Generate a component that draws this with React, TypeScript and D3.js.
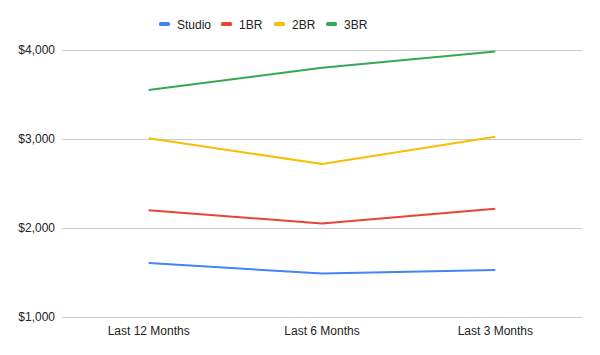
import { axisBottom, axisLeft, line, scaleBand, scaleLinear, select } from "d3";
import { useEffect, useRef } from "react";

const categories = ["Last 12 Months", "Last 6 Months", "Last 3 Months"];
const seriesNames = ["Studio", "1BR", "2BR", "3BR"];
const seriesColors = ["#4285F4", "#EA4335", "#FBBC04", "#34A853"];
const studio = [1607, 1488, 1529];
const oneBR = [2200, 2050, 2215];
const twoBR = [3008, 2720, 3025];
const threeBR = [3550, 3800, 3984];
const yTicks = [1000, 2000, 3000, 4000];

const width = 600;
const height = 355;

export default function App() {
  const svgRef = useRef<SVGSVGElement | null>(null);

  useEffect(() => {
    if (!svgRef.current) return;
    const svg = select(svgRef.current);
    svg.selectAll("*").remove();

    const margin = { top: 50, right: 18, bottom: 38, left: 62 };
    const innerWidth = width - margin.left - margin.right;
    const innerHeight = 317 - margin.top;
    const font = "Liberation Sans, Arial, sans-serif";

    const xScale = scaleBand<string>().domain(categories).range([0, innerWidth]);
    const yScale = scaleLinear().domain([1000, 4000]).range([innerHeight, 0]);

    const chart = svg.append("g").attr("transform", `translate(${margin.left},${margin.top})`);

    // gridlines + y labels
    const yAxis = axisLeft(yScale)
      .tickValues(yTicks)
      .tickSize(-innerWidth)
      .tickPadding(7)
      .tickFormat((d) => "$" + Number(d).toLocaleString("en-US"));
    const yg = chart.append("g").call(yAxis);
    yg.select(".domain").remove();
    yg.selectAll("line").attr("stroke", "#cccccc").attr("stroke-width", 1);
    yg.selectAll("text")
      .attr("fill", "#222")
      .attr("font-size", 12)
      .attr("font-family", font);

    const xAxis = axisBottom(xScale).tickSize(0).tickPadding(9);
    const xg = chart.append("g").attr("transform", `translate(0,${innerHeight})`).call(xAxis);
    xg.select(".domain").remove();
    xg.selectAll("text")
      .attr("fill", "#222")
      .attr("font-size", 12)
      .attr("font-family", font);

    const series = [studio, oneBR, twoBR, threeBR];
    const lineGen = line<number>()
      .x((_, i) => (xScale(categories[i]) ?? 0) + xScale.bandwidth() / 2)
      .y((d) => yScale(d));

    series.forEach((values, i) => {
      chart
        .append("path")
        .datum(values)
        .attr("d", lineGen)
        .attr("fill", "none")
        .attr("stroke", seriesColors[i])
        .attr("stroke-width", 2)
        .attr("stroke-linejoin", "round");
    });

    // legend
    const legendX = [159, 221, 274, 326];
    const legend = svg.append("g");
    seriesNames.forEach((name, i) => {
      const g = legend.append("g").attr("transform", `translate(${legendX[i]},24)`);
      g.append("rect")
        .attr("x", 0)
        .attr("y", -2)
        .attr("width", 11)
        .attr("height", 4)
        .attr("rx", 1.5)
        .attr("fill", seriesColors[i]);
      g.append("text")
        .attr("x", 18)
        .attr("y", 4.5)
        .attr("font-size", 12)
        .attr("font-family", font)
        .attr("fill", "#222")
        .text(name);
    });
  }, []);

  return (
    <div style={{ position: "absolute", left: 0, top: 0 }}>
      <svg ref={svgRef} width={width} height={height} style={{ display: "block", background: "#fff" }} />
    </div>
  );
}
